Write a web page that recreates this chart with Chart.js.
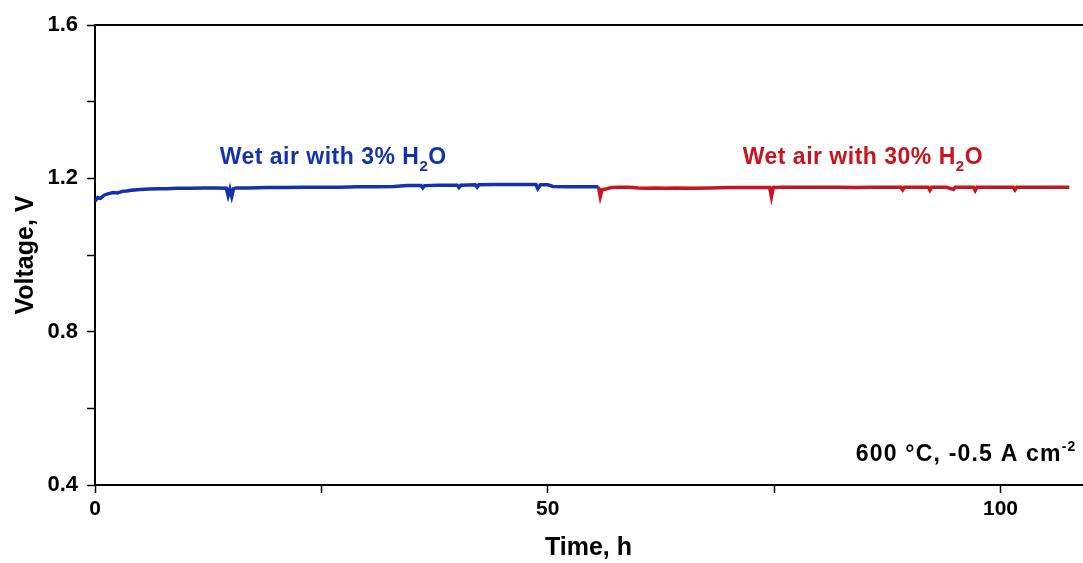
<!DOCTYPE html>
<html>
<head>
<meta charset="utf-8">
<script src="https://cdn.jsdelivr.net/npm/chart.js@4"></script>
<style>
  html, body { margin: 0; padding: 0; background: #fff; }
  #wrap { width: 1083px; height: 563px; }
</style>
</head>
<body>
<div id="wrap"><canvas id="voltChart" width="1083" height="563"></canvas></div>
<script>
// Time (h) and cell voltage (V)
const blueTime = [0, 0.3, 0.6, 1.0, 1.5, 2.0, 2.5, 3.0, 3.5, 4.0,
    5.0, 6.0, 7.0, 8.0, 9.0, 10.5, 12.0, 13.5, 14.5, 14.7,
    14.9, 15.1, 15.3, 15.6, 17.0, 19.0, 21.0, 23.0, 25.0, 27.0,
    29.0, 31.0, 33.0, 34.5, 36.0, 36.2, 36.4, 38.0, 40.0, 40.2,
    40.4, 42.0, 42.2, 42.4, 44.0, 46.0, 48.0, 48.7, 48.9, 49.2,
    50.0, 50.6, 52.0, 54.0, 55.6];
const blueVolt = [1.140, 1.150, 1.148, 1.156, 1.160, 1.163, 1.162, 1.166, 1.167, 1.169,
    1.171, 1.172, 1.173, 1.173, 1.174, 1.174, 1.175, 1.175, 1.174, 1.155,
    1.172, 1.153, 1.173, 1.175, 1.175, 1.176, 1.176, 1.177, 1.177, 1.177,
    1.178, 1.178, 1.179, 1.181, 1.181, 1.175, 1.181, 1.182, 1.182, 1.176,
    1.182, 1.183, 1.177, 1.183, 1.184, 1.184, 1.184, 1.184, 1.173, 1.183,
    1.183, 1.179, 1.178, 1.178, 1.178];

const redTime = [55.6, 55.8, 56.0, 56.4, 57.0, 58.0, 59.0, 60.0, 61.0, 62.0,
    63.0, 64.0, 66.0, 68.0, 70.0, 72.0, 74.0, 74.5, 74.7, 74.9,
    76.0, 78.0, 80.0, 82.0, 84.0, 86.0, 88.0, 89.0, 89.2, 89.4,
    91.0, 92.0, 92.2, 92.4, 94.0, 94.8, 95.0, 96.0, 97.0, 97.2,
    97.4, 99.0, 101.4, 101.6, 101.8, 103.0, 105.0, 107.6];
const redVolt = [1.178, 1.152, 1.170, 1.172, 1.176, 1.177, 1.177, 1.175, 1.174, 1.175,
    1.174, 1.175, 1.174, 1.175, 1.176, 1.176, 1.176, 1.176, 1.152, 1.176,
    1.177, 1.177, 1.177, 1.177, 1.176, 1.177, 1.177, 1.177, 1.170, 1.177,
    1.177, 1.177, 1.169, 1.177, 1.177, 1.171, 1.177, 1.177, 1.177, 1.168,
    1.177, 1.177, 1.177, 1.170, 1.177, 1.177, 1.177, 1.177];

const seriesNames = ['Wet air with 3% H2O', 'Wet air with 30% H2O'];
const conditionText = ['600 \u00B0C, -0.5 A cm', '-2'];

const BLUE = '#1232b0';
const RED = '#c8141e';
const FONT = "'Liberation Sans', Arial, sans-serif";

function toPoints(xs, ys) {
    return xs.map((x, i) => ({ x: x, y: ys[i] }));
}

// draws text pieces in a row; each piece: [text, size, yShift]
function drawRich(ctx, pieces, x, y, align, color, spacing) {
    ctx.save();
    ctx.fillStyle = color;
    ctx.textBaseline = 'alphabetic';
    ctx.textAlign = 'left';
    ctx.letterSpacing = spacing + 'px';
    let total = 0;
    pieces.forEach(p => {
        ctx.font = 'bold ' + p[1] + 'px ' + FONT;
        total += ctx.measureText(p[0]).width;
    });
    let cx = align === 'center' ? x - total / 2 : (align === 'right' ? x - total : x);
    pieces.forEach(p => {
        ctx.font = 'bold ' + p[1] + 'px ' + FONT;
        ctx.fillText(p[0], cx, y + p[2]);
        cx += ctx.measureText(p[0]).width;
    });
    ctx.restore();
}

const labelsPlugin = {
    id: 'labelsPlugin',
    afterDraw(chart) {
        const ctx = chart.ctx;
        const xs = chart.scales.x, ys = chart.scales.y;
        const area = chart.chartArea;

        // top frame line
        ctx.save();
        ctx.strokeStyle = '#000';
        ctx.lineWidth = 2;
        ctx.beginPath();
        ctx.moveTo(area.left, area.top);
        ctx.lineTo(area.right + 1, area.top);
        ctx.stroke();
        ctx.restore();

        drawRich(ctx, [['Wet air with 3% H', 23, 0], ['2', 15, 7], ['O', 23, 0]],
            xs.getPixelForValue(26.3), ys.getPixelForValue(1.237), 'center', BLUE, 0.5);
        drawRich(ctx, [['Wet air with 30% H', 23, 0], ['2', 15, 7], ['O', 23, 0]],
            xs.getPixelForValue(84.8), ys.getPixelForValue(1.237), 'center', RED, 0.5);
        drawRich(ctx, [[conditionText[0], 23, 0], [conditionText[1], 14, -10]],
            xs.getPixelForValue(108.4), ys.getPixelForValue(0.462), 'right', '#000', 1.2);
    }
};

const ctx = document.getElementById('voltChart').getContext('2d');
new Chart(ctx, {
    type: 'line',
    data: {
        datasets: [{
            label: seriesNames[0],
            data: toPoints(blueTime, blueVolt),
            borderColor: BLUE,
            borderWidth: 3.5,
            pointRadius: 0,
            tension: 0
        }, {
            label: seriesNames[1],
            data: toPoints(redTime, redVolt),
            borderColor: RED,
            borderWidth: 3.5,
            pointRadius: 0,
            tension: 0
        }]
    },
    options: {
        responsive: false,
        animation: false,
        layout: { padding: { top: 25, right: 1, left: 0, bottom: 0 } },
        plugins: {
            legend: { display: false },
            tooltip: { enabled: false }
        },
        scales: {
            x: {
                type: 'linear',
                min: 0,
                max: 109,
                afterFit(scale) { scale.height = 78; },
                border: { display: true, color: '#000', width: 2 },
                grid: { drawOnChartArea: false, drawTicks: true, tickLength: 8, color: '#000', tickWidth: 1.5 },
                ticks: {
                    stepSize: 25,
                    includeBounds: false,
                    autoSkip: false,
                    maxRotation: 0,
                    padding: 4,
                    color: '#000',
                    font: { family: FONT, size: 21, weight: 'bold' },
                    callback: v => (v % 50 === 0 ? String(v) : '')
                },
                title: {
                    display: true,
                    text: 'Time, h',
                    color: '#000',
                    font: { family: FONT, size: 25, weight: 'bold' },
                    padding: { top: 0, bottom: 0 }
                }
            },
            y: {
                min: 0.4,
                max: 1.6,
                afterFit(scale) { scale.width = 95; },
                border: { display: true, color: '#000', width: 2 },
                grid: { drawOnChartArea: false, drawTicks: true, tickLength: 8, color: '#000', tickWidth: 1.5 },
                ticks: {
                    stepSize: 0.2,
                    includeBounds: false,
                    autoSkip: false,
                    padding: 9,
                    color: '#000',
                    font: { family: FONT, size: 22, weight: 'bold' },
                    callback: v => (Math.round(v * 10) % 4 === 0 ? v.toFixed(1) : '')
                },
                title: {
                    display: true,
                    text: 'Voltage, V',
                    color: '#000',
                    font: { family: FONT, size: 25, weight: 'bold' },
                    padding: { top: 11, bottom: 0 }
                }
            }
        }
    },
    plugins: [labelsPlugin]
});
</script>
</body>
</html>
